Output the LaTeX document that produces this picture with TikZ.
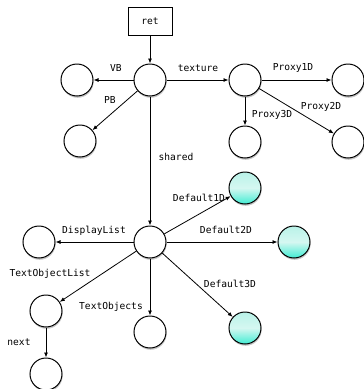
\documentclass[tikz,border=0pt]{standalone}
\usepackage{fontspec}
\setmonofont{DejaVu Sans Mono}
\usetikzlibrary{arrows.meta,shadows}
\definecolor{deftop}{RGB}{185,242,232}
\definecolor{defbot}{RGB}{64,236,210}
\tikzset{
  obj/.style={circle,draw,line width=1pt,fill=white,minimum size=32pt,inner sep=0pt,
    drop shadow={opacity=0.45,shadow xshift=0.6pt,shadow yshift=-1.8pt}},
  dflt/.style={obj,top color=deftop,bottom color=defbot,middle color=deftop!60!white},
  lbl/.style={font=\ttfamily\fontsize{9.6}{11}\selectfont,inner sep=0pt},
  link/.style={line width=0.8pt,-{Latex[length=5pt,width=4pt]}}
}
\begin{document}
\begin{tikzpicture}[x=1pt,y=-1pt]
\useasboundingbox (0,0) rectangle (364,389);
% pointer and top level
\node[draw,line width=0.9pt,fill=white,minimum width=44pt,minimum height=28pt,
  font=\ttfamily\fontsize{9.6}{11}\selectfont] (ret) at (150,21) {ret};
\node[obj] (root) at (150,80) {};
\node[obj] (vb) at (77,80) {};
\node[obj] (pb) at (80,141) {};
\node[obj] (tex) at (245,80) {};
\node[obj] (p1) at (348,80) {};
\node[obj] (p3) at (245,142) {};
\node[obj] (p2) at (348,142) {};
% shared state
\node[obj] (sh) at (150,242) {};
\node[dflt] (d1) at (245,188) {};
\node[dflt] (d2) at (294,242) {};
\node[dflt] (d3) at (245,328) {};
\node[obj] (dl) at (39,242) {};
\node[obj] (tol) at (46,311) {};
\node[obj] (tob) at (150,332) {};
\node[obj] (nxt) at (46,374) {};

\draw[link] (ret) -- (root);
\draw[link] (root) -- (vb);
\draw[link] (root) -- (pb);
\draw[link] (root) -- (tex);
\draw[link] (tex) -- (p1);
\draw[link] (tex) -- (p2);
\draw[link] (tex) -- (p3);
\draw[link] (root) -- (sh);
\draw[link] (sh) -- (d1);
\draw[link] (sh) -- (d2);
\draw[link] (sh) -- (d3);
\draw[link] (sh) -- (dl);
\draw[link] (sh) -- (tol);
\draw[link] (sh) -- (tob);
\draw[link] (tol) -- (nxt);

% labels
\node[lbl] (lvb) at (116,68) {VB};
\node[lbl] (lpb) at (110,100) {PB};
\node[lbl] (ltex) at (198,68) {texture};
\node[lbl] (lp1) at (293,68) {Proxy1D};
\node[lbl] (lp2) at (321,107) {Proxy2D};
\node[lbl] (lp3) at (272,115) {Proxy3D};
\node[lbl] (lsh) at (176,157) {shared};
\node[lbl] (ld1) at (199,198) {Default1D};
\node[lbl] (ld2) at (226,230) {Default2D};
\node[lbl] (ld3) at (230,284) {Default3D};
\node[lbl] (ldl) at (94,231) {DisplayList};
\node[lbl] (ltol) at (50,274) {TextObjectList};
\node[lbl] (ltob) at (111,307) {TextObjects};
\node[lbl] (lnxt) at (19,342) {next};
\end{tikzpicture}
\end{document}
